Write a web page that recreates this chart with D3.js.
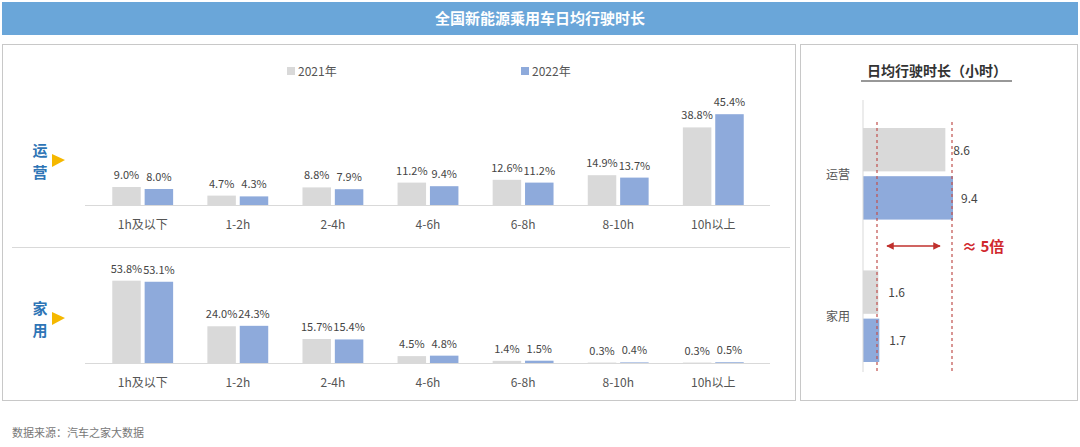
<!DOCTYPE html><html><head><meta charset="utf-8">
<script src="https://cdn.jsdelivr.net/npm/d3@7"></script>
<style>body{margin:0;background:#fff;font-family:"Microsoft YaHei","Noto Sans CJK SC",sans-serif}</style></head><body>
<svg id="c" width="1080" height="447"></svg>
<script>
const categories=["1h及以下","1-2h","2-4h","4-6h","6-8h","8-10h","10h以上"];
const yunying2021=[9.0,4.7,8.8,11.2,12.6,14.9,38.8];
const yunying2022=[8.0,4.3,7.9,9.4,11.2,13.7,45.4];
const jiayong2021=[53.8,24.0,15.7,4.5,1.4,0.3,0.3];
const jiayong2022=[53.1,24.3,15.4,4.8,1.5,0.4,0.5];
const avgGroups=["运营","家用"];
const avg2021=[8.6,1.6];
const avg2022=[9.4,1.7];
const C1="#d9d9d9",C2="#8eaadb";
const svg=d3.select("#c");
const F='"Microsoft YaHei","Noto Sans CJK SC",sans-serif';
svg.append("rect").attr("x",2).attr("y",2).attr("width",1076).attr("height",33).attr("fill","#6aa6d9");
svg.append("text").attr("x",540).attr("y",24).attr("text-anchor","middle").attr("fill","#fff").attr("font-size",15).attr("font-weight","bold").attr("font-family",F).text("全国新能源乘用车日均行驶时长");
svg.append("rect").attr("x",2.5).attr("y",44.5).attr("width",793).attr("height",356).attr("fill","none").attr("stroke","#c8c8c8");
svg.append("rect").attr("x",800.5).attr("y",44.5).attr("width",277).attr("height",356).attr("fill","none").attr("stroke","#c8c8c8");
[[289,C1,"2021年"],[523,C2,"2022年"]].forEach(([x,c,t])=>{
 svg.append("rect").attr("x",x-2).attr("y",67).attr("width",8).attr("height",8).attr("fill",c);
 svg.append("text").attr("x",x+9).attr("y",76).attr("font-size",12).attr("fill","#555").attr("font-family",F).text(t);
});
const x0=d3.scaleBand().domain(categories).range([98,758]).paddingInner(0.36).paddingOuter(0.15);
const x1=d3.scaleBand().domain([0,1]).range([0,x0.bandwidth()]).paddingInner(0.12);
function panel(a,b,base,pxPer,name,nameY){
 const y=d3.scaleLinear().domain([0,1]).range([base,base-pxPer]);
 const g=svg.append("g");
 categories.forEach((c,i)=>{
  [[a[i],C1,0],[b[i],C2,1]].forEach(([v,col,k])=>{
   const xx=x0(c)+x1(k);
   g.append("rect").attr("x",xx).attr("y",y(v)).attr("width",x1.bandwidth()).attr("height",base-y(v)).attr("fill",col);
   g.append("text").attr("x",xx+x1.bandwidth()/2).attr("y",y(v)-8).attr("text-anchor","middle").attr("font-size",11).attr("fill","#444").attr("font-family",F).text(v.toFixed(1)+"%");
  });
 });
 const ax=g.append("g").attr("transform",`translate(0,${base})`).call(d3.axisBottom(x0).tickSize(0).tickPadding(15));
 ax.select(".domain").attr("stroke","#d9d9d9").attr("d",`M85,0.5H770`);
 ax.selectAll("text").attr("font-size",12).attr("fill","#555").attr("font-family",F);
 [0,1].forEach(k=>g.append("text").attr("x",40).attr("y",nameY+k*22).attr("text-anchor","middle").attr("font-size",15).attr("font-weight","bold").attr("fill","#2e75b6").attr("font-family",F).text(name[k]));
 g.append("path").attr("d",`M52,${nameY-2}L65,${nameY+4}L52,${nameY+11}Z`).attr("fill","#f5b800");
}
panel(yunying2021,yunying2022,205,2.0,"运营",156);
svg.append("line").attr("x1",12).attr("x2",790).attr("y1",247.5).attr("y2",247.5).attr("stroke","#d9d9d9");
panel(jiayong2021,jiayong2022,363,1.53,"家用",314);
svg.append("text").attr("x",937).attr("y",76).attr("text-anchor","middle").attr("font-size",14).attr("font-weight","bold").attr("fill","#333").attr("font-family",F).text("日均行驶时长（小时）");
svg.append("line").attr("x1",861).attr("x2",1012).attr("y1",81).attr("y2",81).attr("stroke","#333").attr("stroke-width",1.2);
const xs=d3.scaleLinear().domain([0,9.4]).range([863,953]);
const yg=d3.scaleBand().domain(avgGroups).range([128,362]).paddingInner(0.357).paddingOuter(0);
const ys=d3.scaleBand().domain([0,1]).range([0,yg.bandwidth()]).paddingInner(0.1);
avgGroups.forEach((gname,i)=>{
 [[avg2021[i],C1,0],[avg2022[i],C2,1]].forEach(([v,col,k])=>{
  const yy=yg(gname)+ys(k);
  svg.append("rect").attr("x",xs(0)).attr("y",yy).attr("width",xs(v)-xs(0)).attr("height",ys.bandwidth()).attr("fill",col);
  svg.append("text").attr("x",xs(v)+(v<5?10:8)).attr("y",yy+ys.bandwidth()/2+5).attr("font-size",12).attr("fill","#444").attr("font-family",F).text(v.toFixed(1));
 });
 svg.append("text").attr("x",838).attr("y",yg(gname)+yg.bandwidth()/2+5).attr("text-anchor","middle").attr("font-size",12).attr("fill","#555").attr("font-family",F).text(gname);
});
svg.append("line").attr("x1",863).attr("x2",863).attr("y1",100).attr("y2",372).attr("stroke","#d9d9d9");
[877,952].forEach(x=>svg.append("line").attr("x1",x).attr("x2",x).attr("y1",122).attr("y2",372).attr("stroke","#c0504d").attr("stroke-dasharray","3,3").attr("stroke-width",1.2));
const defs=svg.append("defs");
defs.append("marker").attr("id","ah").attr("viewBox","0 0 10 10").attr("refX",9).attr("refY",5).attr("markerWidth",5).attr("markerHeight",5).attr("orient","auto-start-reverse").append("path").attr("d","M0,0L10,5L0,10Z").attr("fill","#c0302d");
svg.append("line").attr("x1",887).attr("x2",940).attr("y1",246).attr("y2",246).attr("stroke","#c0302d").attr("stroke-width",1.5).attr("marker-end","url(#ah)").attr("marker-start","url(#ah)");
svg.append("text").attr("x",962).attr("y",252).attr("font-size",15).attr("font-weight","bold").attr("fill","#d0282d").attr("font-family",F).text("≈  5倍");
svg.append("text").attr("x",12).attr("y",437).attr("font-size",11).attr("fill","#777").attr("font-family",F).text("数据来源：汽车之家大数据");
</script></body></html>
